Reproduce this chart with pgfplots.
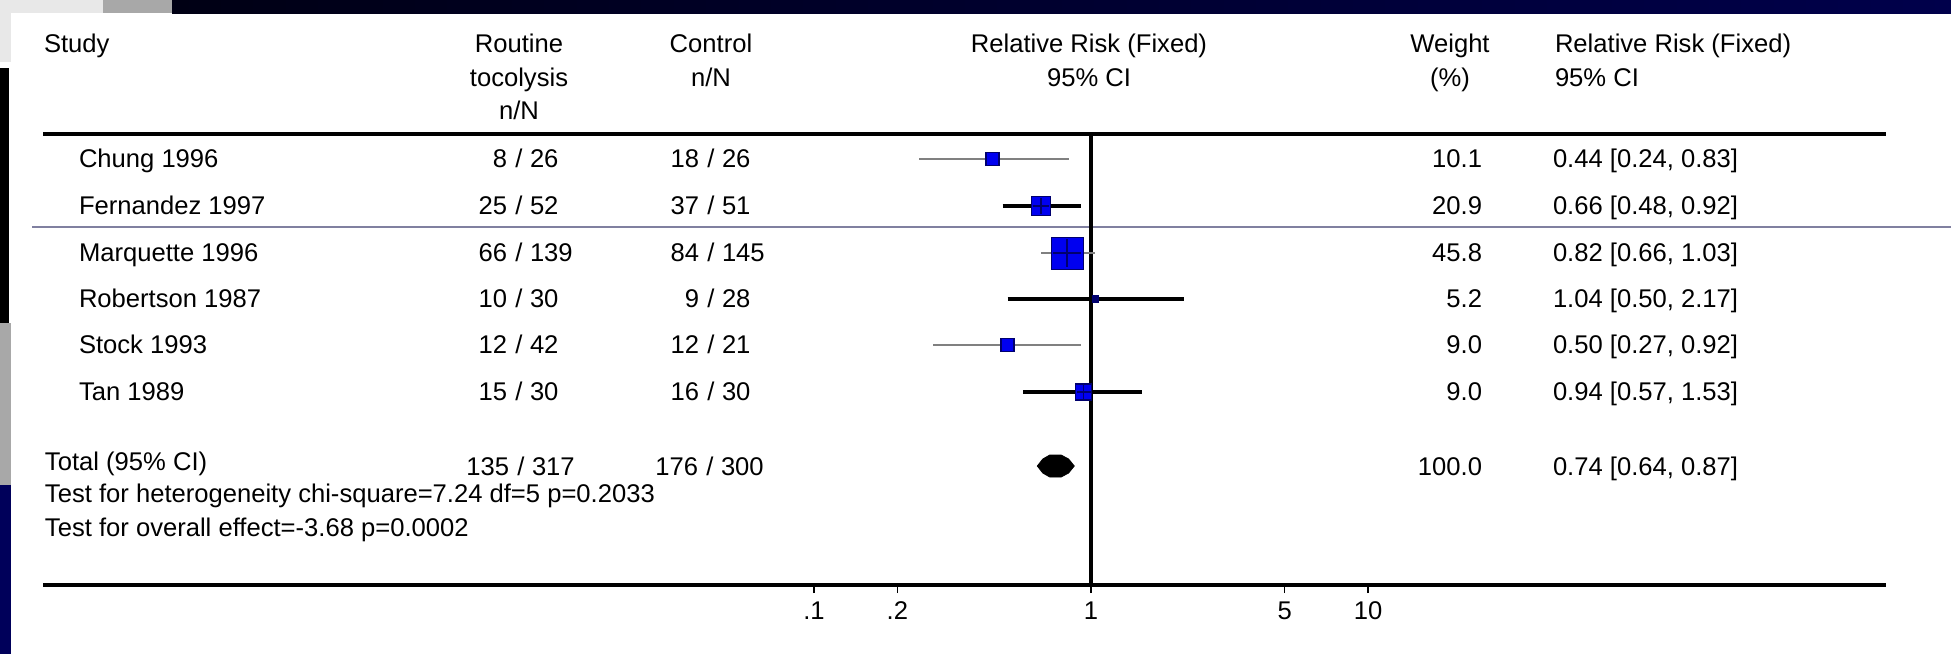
\documentclass[border=0pt]{standalone}
\usepackage{pgfplots}
\pgfplotsset{compat=1.18}
\usepackage{fontspec}
\setmainfont{Liberation Sans}
\newcommand\f{\fontsize{12.8}{15}\selectfont}
\definecolor{slidenavy}{RGB}{0,0,90}
\definecolor{slidegrey}{RGB}{168,168,168}
\definecolor{slidelight}{RGB}{232,232,232}
\definecolor{thinln}{RGB}{128,128,160}
\definecolor{cigrey}{RGB}{128,128,128}
\definecolor{boxblue}{RGB}{0,0,240}
\definecolor{boxnavy}{RGB}{0,0,110}
% count n / N aligned on the slash
\newcommand\cnt[4]{%
  \node[anchor=base east] at (#1-12,#2) {#3};
  \node[anchor=base] at (#1,#2) {/};
  \node[anchor=base west] at (#1+11,#2) {#4};}
\begin{document}
\begin{tikzpicture}
\begin{scope}[x=0.5pt,y=-0.5pt, every node/.style={font=\f, inner sep=0pt, outer sep=0pt}]
\useasboundingbox (0,0) rectangle (1951,654);
\fill[white] (0,0) rectangle (1951,654);
% slide decoration
\fill[slidelight] (0,0) rectangle (103,13);
\fill[slidegrey] (103,0) rectangle (172,13);
\shade[left color={rgb,255:red,0;green,0;blue,20}, right color={rgb,255:red,0;green,0;blue,75}] (172,0) rectangle (1951,13);
\fill[slidelight] (0,13) rectangle (11,62);
\fill[black] (0,68) rectangle (9,323);
\fill[slidegrey] (0,323) rectangle (11,485);
\fill[slidenavy] (0,485) rectangle (11,654);
\draw[thinln, line width=0.75pt] (32,227) -- (1951,227);
% rules
\draw[black, line width=1.75pt] (43,134) -- (1886,134);
\draw[black, line width=1.75pt] (43,585) -- (1886,585);
% headers
\node[anchor=base west] at (44,52) {Study};
\node[anchor=base] at (519,52) {Routine};
\node[anchor=base] at (519,86) {tocolysis};
\node[anchor=base] at (519,119) {n/N};
\node[anchor=base] at (711,52) {Control};
\node[anchor=base] at (711,86) {n/N};
\node[anchor=base] at (1089,52) {Relative Risk (Fixed)};
\node[anchor=base] at (1089,86) {95\% CI};
\node[anchor=base] at (1450,52) {Weight};
\node[anchor=base] at (1450,86) {(\%)};
\node[anchor=base west] at (1555,52) {Relative Risk (Fixed)};
\node[anchor=base west] at (1555,86) {95\% CI};
% study rows
\node[anchor=base west] at (79,167) {Chung 1996};
\node[anchor=base west] at (79,214) {Fernandez 1997};
\node[anchor=base west] at (79,261) {Marquette 1996};
\node[anchor=base west] at (79,307) {Robertson 1987};
\node[anchor=base west] at (79,353) {Stock 1993};
\node[anchor=base west] at (79,400) {Tan 1989};
\cnt{519}{167}{8}{26}
\cnt{519}{214}{25}{52}
\cnt{519}{261}{66}{139}
\cnt{519}{307}{10}{30}
\cnt{519}{353}{12}{42}
\cnt{519}{400}{15}{30}
\cnt{711}{167}{18}{26}
\cnt{711}{214}{37}{51}
\cnt{711}{261}{84}{145}
\cnt{711}{307}{9}{28}
\cnt{711}{353}{12}{21}
\cnt{711}{400}{16}{30}
\node[anchor=base east] at (1482,167) {10.1};
\node[anchor=base east] at (1482,214) {20.9};
\node[anchor=base east] at (1482,261) {45.8};
\node[anchor=base east] at (1482,307) {5.2};
\node[anchor=base east] at (1482,353) {9.0};
\node[anchor=base east] at (1482,400) {9.0};
\node[anchor=base west] at (1553,167) {0.44 [0.24, 0.83]};
\node[anchor=base west] at (1553,214) {0.66 [0.48, 0.92]};
\node[anchor=base west] at (1553,261) {0.82 [0.66, 1.03]};
\node[anchor=base west] at (1553,307) {1.04 [0.50, 2.17]};
\node[anchor=base west] at (1553,353) {0.50 [0.27, 0.92]};
\node[anchor=base west] at (1553,400) {0.94 [0.57, 1.53]};
% total
\node[anchor=base west] at (45,470) {Total (95\% CI)};
\cnt{521}{475}{135}{317}
\cnt{710}{475}{176}{300}
\node[anchor=base east] at (1482,475) {100.0};
\node[anchor=base west] at (1553,475) {0.74 [0.64, 0.87]};
\node[anchor=base west] at (45,502) {Test for heterogeneity chi-square=7.24 df=5 p=0.2033};
\node[anchor=base west] at (45,536) {Test for overall effect=-3.68 p=0.0002};
\end{scope}
\begin{axis}[
  at={(407pt,-292.5pt)}, anchor=south west,
  width=277pt, height=225.5pt, scale only axis,
  xmode=log, xmin=0.1, xmax=10,
  ymin=134, ymax=585, y dir=reverse,
  axis line style={draw=none},
  xtick={0.1,0.2,1,5,10}, xticklabels={.1,.2,1,5,10},
  xtick pos=bottom, tick align=outside, major tick length=4pt,
  minor tick style={draw=none},
  ytick=\empty,
  tick style={black, line width=0.8pt},
  xticklabel style={font=\f, inner sep=0pt, yshift=-4pt},
  clip=false,
]
% line of no effect
\addplot[black, line width=1.6pt] coordinates {(1,134) (1,585)};
% confidence intervals
\addplot[cigrey, line width=1.4pt] coordinates {(0.24,159) (0.83,159)};
\addplot[black, line width=1.9pt] coordinates {(0.48,206) (0.92,206)};
\addplot[cigrey, line width=1.4pt] coordinates {(0.66,253) (1.03,253)};
\addplot[black, line width=1.9pt] coordinates {(0.50,299) (2.17,299)};
\addplot[cigrey, line width=1.4pt] coordinates {(0.27,345) (0.92,345)};
\addplot[black, line width=1.9pt] coordinates {(0.57,392) (1.53,392)};
% boxes (weighted)
\addplot[only marks, mark=square*, mark size=3.25pt, mark options={fill=boxblue, draw=boxnavy, line width=0.8pt}] coordinates {(0.44,159)};
\addplot[only marks, mark=square*, mark size=4.75pt, mark options={fill=boxblue, draw=boxnavy, line width=0.6pt}] coordinates {(0.66,206)};
\addplot[only marks, mark=square*, mark size=8pt, mark options={fill=boxblue, draw=boxnavy, line width=0.5pt}] coordinates {(0.82,253)};
\addplot[only marks, mark=square*, mark size=1.6pt, mark options={fill=boxnavy, draw=boxnavy, line width=0.5pt}] coordinates {(1.04,299)};
\addplot[only marks, mark=square*, mark size=3.25pt, mark options={fill=boxblue, draw=boxnavy, line width=0.8pt}] coordinates {(0.50,345)};
\addplot[only marks, mark=square*, mark size=4pt, mark options={fill=boxblue, draw=boxnavy, line width=0.6pt}] coordinates {(0.94,392)};
% cross hairs
\addplot[only marks, mark=+, mark size=4.2pt, mark options={draw=boxnavy, line width=0.9pt}] coordinates {(0.66,206)};
\addplot[only marks, mark=+, mark size=7pt, mark options={draw=boxnavy, line width=0.9pt}] coordinates {(0.82,253)};
\addplot[only marks, mark=+, mark size=3.5pt, mark options={draw=boxnavy, line width=0.9pt}] coordinates {(0.94,392)};
% pooled estimate
\addplot[fill=black, draw=black] coordinates {(0.64,466) (0.67,459) (0.71,455) (0.78,455) (0.83,459) (0.87,466) (0.83,473) (0.78,477) (0.71,477) (0.67,473)} -- cycle;
\end{axis}
\end{tikzpicture}
\end{document}
